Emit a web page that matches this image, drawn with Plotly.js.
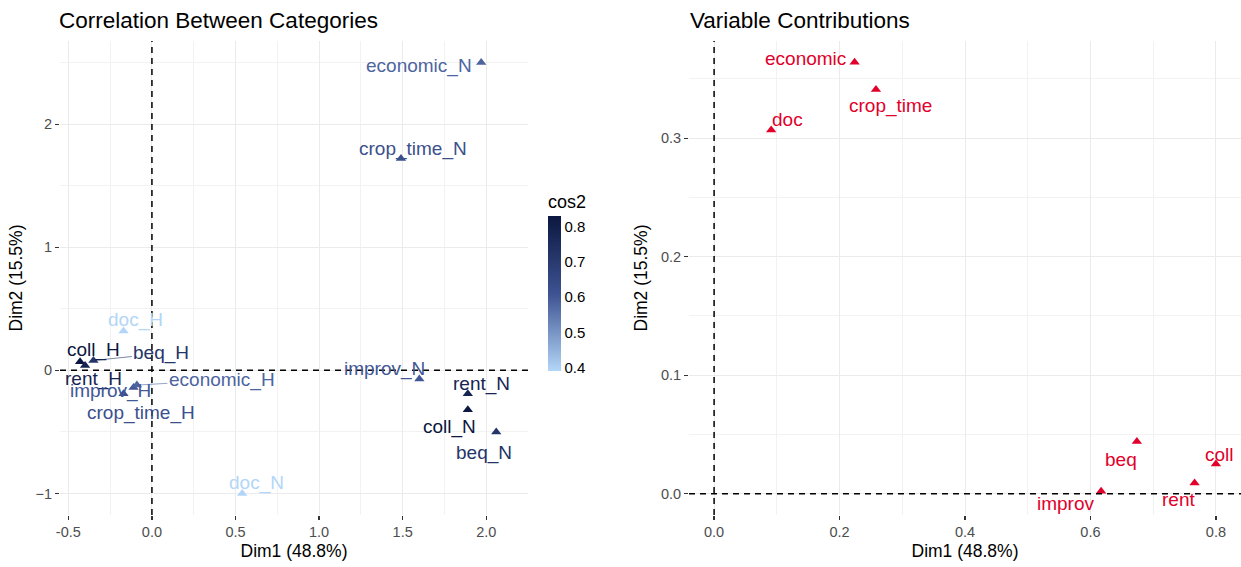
<!DOCTYPE html>
<html>
<head>
<meta charset="utf-8">
<script src="https://cdn.plot.ly/plotly-3.0.1.min.js"></script>
<style>html,body{margin:0;padding:0;background:#fff;}#chart{width:1241px;height:567px;}</style>
</head>
<body>
<div id="chart"></div>
<script>
// ---- Data: categories (left panel) ----
const catLabels = ["economic_N","crop_time_N","improv_N","rent_N","coll_N","beq_N","doc_N",
                   "doc_H","coll_H","rent_H","beq_H","improv_H","economic_H","crop_time_H"];
const catDim1 = [1.97, 1.49, 1.60, 1.89, 1.89, 2.06, 0.54,
                 -0.17, -0.43, -0.40, -0.35, -0.11, -0.09, -0.17];
const catDim2 = [2.50, 1.72, -0.07, -0.19, -0.32, -0.50, -1.00,
                 0.32, 0.07, 0.04, 0.08, -0.14, -0.12, -0.19];
const catCos2 = [0.58, 0.62, 0.60, 0.78, 0.83, 0.72, 0.39,
                 0.39, 0.83, 0.78, 0.72, 0.60, 0.58, 0.62];

// ---- Data: variables (right panel) ----
const varLabels = ["economic","crop_time","doc","beq","coll","rent","improv"];
const varDim1 = [0.224, 0.258, 0.091, 0.674, 0.800, 0.766, 0.617];
const varDim2 = [0.364, 0.341, 0.307, 0.044, 0.025, 0.009, 0.002];

// ---- Tick labels ----
const leftXTicks = [-0.5, 0, 0.5, 1, 1.5, 2];
const leftXTickText = ["-0.5","0.0","0.5","1.0","1.5","2.0"];
const leftYTicks = [-1, 0, 1, 2];
const rightXTicks = [0, 0.2, 0.4, 0.6, 0.8];
const rightXTickText = ["0.0","0.2","0.4","0.6","0.8"];
const rightYTicks = [0, 0.1, 0.2, 0.3];
const rightYTickText = ["0.0","0.1","0.2","0.3"];
const cbTicks = [0.4, 0.5, 0.6, 0.7, 0.8];
const cbTickText = ["0.4","0.5","0.6","0.7","0.8"];

// ---- Label placement (pixel offsets [right, up], style only) ----
const catLabelOffsets = [[-62,-3],[12,10],[-35,10],[14,10],[-18,-17],[-12,-21],[14,10],
                         [12,11],[13,12],[8,-14],[68,7],[-23,-3],[85,5],[17,-19]];
const catLabelArrow = [false,false,false,false,false,false,false,
                       false,false,false,true,false,true,false];
const varLabelOffsets = [[-49,4],[15,-16],[16,10],[-16,-18],[4,10],[-16,-16],[-35,-12]];

const cmin = 0.39, cmax = 0.83;
const cscale = [[0,'#B3D6F8'],[0.5,'#3D5291'],[1,'#0B1740']];
function hex2rgb(h){return [parseInt(h.substr(1,2),16),parseInt(h.substr(3,2),16),parseInt(h.substr(5,2),16)];}
function colorFor(v){
  let t = (v-cmin)/(cmax-cmin); t = Math.max(0,Math.min(1,t));
  for(let i=0;i<cscale.length-1;i++){
    const a=cscale[i], b=cscale[i+1];
    if(t>=a[0] && t<=b[0]){
      const f=(t-a[0])/(b[0]-a[0]);
      const ca=hex2rgb(a[1]), cb=hex2rgb(b[1]);
      const c=ca.map((x,k)=>Math.round(x+(cb[k]-x)*f));
      return 'rgb('+c.join(',')+')';
    }
  }
  return cscale[cscale.length-1][1];
}
const RED = '#E1002A';
const FONT = 'Liberation Sans, Arial, sans-serif';
const LBL = 19;

const traceCat = {
  type:'scatter', mode:'markers', x:catDim1, y:catDim2, xaxis:'x', yaxis:'y',
  text:catLabels, hoverinfo:'text',
  marker:{symbol:'triangle-up', size:9, color:catCos2, cmin:cmin, cmax:cmax, colorscale:cscale,
    showscale:true,
    colorbar:{title:{text:'cos2', side:'top', font:{size:18, color:'#000', family:FONT}},
      thickness:13, lenmode:'pixels', len:180, x:548/1241, xanchor:'left',
      y:1-371/567, yanchor:'bottom', tickvals:cbTicks,
      ticktext:cbTickText, tickprefix:'\u00A0\u00A0', ticks:'', outlinewidth:0,
      tickfont:{size:15, color:'#000', family:FONT}, xpad:0, ypad:0}}
};
const traceVar = {
  type:'scatter', mode:'markers', x:varDim1, y:varDim2, xaxis:'x2', yaxis:'y2',
  text:varLabels, hoverinfo:'text',
  marker:{symbol:'triangle-up', size:9, color:RED}
};

const annotations = [];
catLabels.forEach((lab,i)=>{
  const col = colorFor(catCos2[i]);
  const off = catLabelOffsets[i];
  if(catLabelArrow[i]){
    annotations.push({x:catDim1[i], y:catDim2[i], xref:'x', yref:'y', text:lab, showarrow:true,
      ax:off[0], ay:-off[1], arrowhead:0, arrowwidth:0.6, arrowcolor:col, standoff:2,
      font:{size:LBL, color:col, family:FONT}});
  } else {
    annotations.push({x:catDim1[i], y:catDim2[i], xref:'x', yref:'y', text:lab, showarrow:false,
      xshift:off[0], yshift:off[1], font:{size:LBL, color:col, family:FONT}});
  }
});
varLabels.forEach((lab,i)=>{
  const off = varLabelOffsets[i];
  annotations.push({x:varDim1[i], y:varDim2[i], xref:'x2', yref:'y2', text:lab, showarrow:false,
    xshift:off[0], yshift:off[1], font:{size:LBL, color:RED, family:FONT}});
});
annotations.push({text:'Correlation Between Categories', xref:'paper', yref:'paper',
  x:57/1241, y:1-20/567, xanchor:'left', yanchor:'middle', showarrow:false,
  font:{size:22.5, color:'#000', family:FONT}});
annotations.push({text:'Variable Contributions', xref:'paper', yref:'paper',
  x:688/1241, y:1-20/567, xanchor:'left', yanchor:'middle', showarrow:false,
  font:{size:22.5, color:'#000', family:FONT}});

const gridC = '#EBEBEB';
const TICKF = {size:14.5, color:'#4D4D4D', family:FONT};
const TITF = {size:17.5, color:'#000', family:FONT};
function axisBase(){
  return {showgrid:true, gridcolor:gridC, gridwidth:1, zeroline:false, showline:false,
    ticks:'outside', ticklen:4, tickcolor:'#333', tickwidth:1.2,
    tickfont:TICKF, automargin:false, fixedrange:true};
}
const xaxis = Object.assign(axisBase(), {domain:[60/1241, 528/1241], range:[-0.55,2.25],
  tickvals:leftXTicks, ticktext:leftXTickText, anchor:'y',
  minor:{dtick:0.25, tick0:0.25, showgrid:true, gridcolor:'#F2F2F2', ticks:''},
  title:{text:'Dim1 (48.8%)', standoff:5, font:TITF}});
const yaxis = Object.assign(axisBase(), {domain:[1-515/567, 1-41/567], range:[-1.175,2.675],
  tickvals:leftYTicks, anchor:'x',
  minor:{dtick:0.5, tick0:0.5, showgrid:true, gridcolor:'#F2F2F2', ticks:''},
  title:{text:'Dim2 (15.5%)', standoff:8, font:TITF}});
const xaxis2 = Object.assign(axisBase(), {domain:[689/1241, 1], range:[-0.04,0.84],
  tickvals:rightXTicks, ticktext:rightXTickText, anchor:'y2',
  minor:{dtick:0.1, tick0:0.1, showgrid:true, gridcolor:'#F2F2F2', ticks:''},
  title:{text:'Dim1 (48.8%)', standoff:5, font:TITF}});
const yaxis2 = Object.assign(axisBase(), {domain:[1-515/567, 1-41/567], range:[-0.018,0.382],
  tickvals:rightYTicks, ticktext:rightYTickText, anchor:'x2',
  minor:{dtick:0.05, tick0:0.05, showgrid:true, gridcolor:'#F2F2F2', ticks:''},
  title:{text:'Dim2 (15.5%)', standoff:8, font:TITF}});

const dash = {color:'#000', width:1.5, dash:'6px,5px'};
const shapes = [
  {type:'line', xref:'x', yref:'y domain', x0:0, x1:0, y0:0, y1:1, line:dash, layer:'above'},
  {type:'line', xref:'x domain', yref:'y', x0:0, x1:1, y0:0, y1:0, line:dash, layer:'above'},
  {type:'line', xref:'x2', yref:'y2 domain', x0:0, x1:0, y0:0, y1:1, line:dash, layer:'above'},
  {type:'line', xref:'x2 domain', yref:'y2', x0:0, x1:1, y0:0, y1:0, line:dash, layer:'above'}
];

const layout = {
  width:1241, height:567, margin:{l:0, r:0, t:0, b:0},
  paper_bgcolor:'#fff', plot_bgcolor:'#fff', showlegend:false,
  font:{family:FONT},
  xaxis:xaxis, yaxis:yaxis, xaxis2:xaxis2, yaxis2:yaxis2,
  shapes:shapes, annotations:annotations
};
Plotly.newPlot('chart', [traceCat, traceVar], layout, {displayModeBar:false, staticPlot:true});
</script>
</body>
</html>
